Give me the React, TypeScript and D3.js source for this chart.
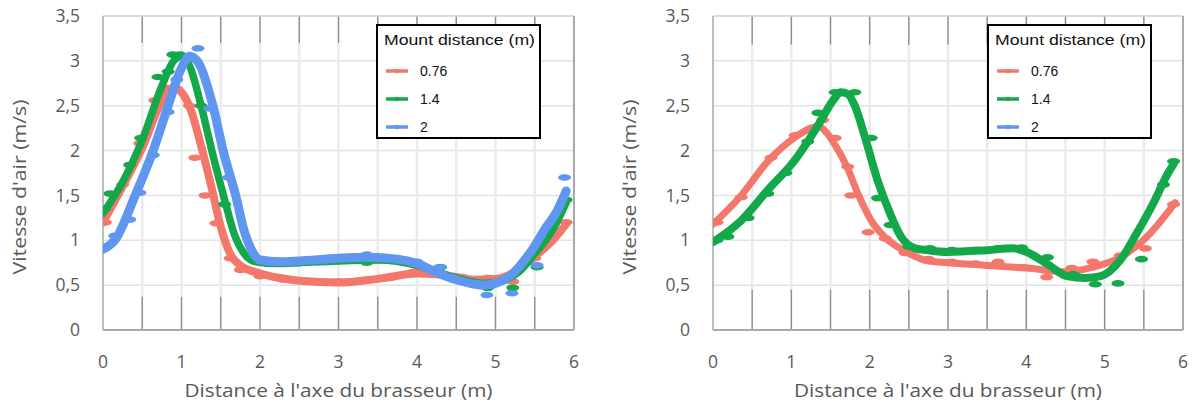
import React from "react";
import * as d3 from "d3";

// ---------- data ----------
const xTicks = [0, 1, 2, 3, 4, 5, 6];
const yTicks = [0, 0.5, 1, 1.5, 2, 2.5, 3, 3.5];
const yTickLabels = ["0", "0,5", "1", "1,5", "2", "2,5", "3", "3,5"];
const xGrid = [0.5, 1, 1.5, 2, 2.5, 3, 3.5, 4, 4.5, 5, 5.5];
const seriesNames = ["0.76", "1.4", "2"];
const seriesColors = ["#F4776C", "#13A84A", "#5F96F0"];
const xTitle = "Distance à l'axe du brasseur (m)";
const yTitle = "Vitesse d'air (m/s)";
const legendTitle = "Mount distance (m)";

// left panel: smoothed curves (x, v)
const leftRedTrend: [number, number][] = [[0,1.2],[0.25,1.6],[0.5,2.03],[0.75,2.55],[0.9,2.7],[1.0,2.65],[1.12,2.45],[1.25,2.05],[1.38,1.6],[1.5,1.15],[1.62,0.85],[1.75,0.72],[2.0,0.63],[2.25,0.58],[2.5,0.55],[3.0,0.53],[3.5,0.57],[4.0,0.63],[4.25,0.62],[4.5,0.59],[4.75,0.56],[5.0,0.57],[5.25,0.65],[5.5,0.82],[5.75,1.02],[5.9,1.18]];
const leftGreenTrend: [number, number][] = [[0,1.3],[0.25,1.65],[0.5,2.12],[0.75,2.72],[0.9,3.0],[1.0,3.05],[1.1,2.95],[1.25,2.5],[1.4,1.95],[1.55,1.45],[1.68,1.05],[1.8,0.85],[1.95,0.76],[2.25,0.74],[2.5,0.75],[3.0,0.77],[3.5,0.78],[4.0,0.72],[4.25,0.65],[4.5,0.58],[4.75,0.53],[4.9,0.52],[5.1,0.55],[5.3,0.65],[5.5,0.85],[5.75,1.15],[5.9,1.42]];
const leftBlueTrend: [number, number][] = [[0,0.9],[0.15,1.0],[0.41,1.5],[0.64,2.0],[0.83,2.5],[1.0,2.92],[1.1,3.05],[1.2,3.0],[1.4,2.5],[1.53,2.0],[1.69,1.5],[1.8,1.1],[1.9,0.88],[2.0,0.78],[2.25,0.76],[2.5,0.77],[3.0,0.8],[3.36,0.81],[3.75,0.79],[4.0,0.74],[4.25,0.64],[4.5,0.56],[4.85,0.5],[5.15,0.58],[5.44,0.86],[5.65,1.15],[5.78,1.32],[5.9,1.55]];

// left panel: measured points
const leftRedPts: [number, number][] = [[0.03,1.2],[0.25,1.62],[0.47,2.08],[0.66,2.56],[0.8,2.7],[1.1,2.5],[1.17,1.92],[1.3,1.5],[1.44,1.19],[1.62,0.8],[1.75,0.67],[2.0,0.6],[2.3,0.56],[2.68,0.54],[3.0,0.54],[3.36,0.56],[3.66,0.58],[3.96,0.65],[4.57,0.59],[4.9,0.58],[5.22,0.54],[5.5,0.8],[5.9,1.2]];
const leftGreenPts: [number, number][] = [[0.02,1.35],[0.09,1.52],[0.34,1.84],[0.48,2.14],[0.7,2.82],[0.83,2.88],[0.89,3.07],[0.98,3.07],[1.25,2.5],[1.55,1.4],[2.1,0.74],[2.5,0.75],[3.0,0.77],[3.36,0.75],[3.8,0.76],[4.3,0.7],[4.9,0.47],[5.22,0.47],[5.53,0.7],[5.9,1.45]];
const leftBluePts: [number, number][] = [[0.02,0.92],[0.15,1.05],[0.34,1.23],[0.47,1.53],[0.64,1.95],[0.83,2.43],[0.94,2.79],[1.21,3.14],[1.36,2.47],[1.6,1.7],[2.1,0.76],[2.42,0.76],[2.75,0.78],[3.06,0.8],[3.36,0.84],[3.7,0.8],[4.0,0.76],[4.29,0.7],[4.89,0.39],[5.21,0.41],[5.53,0.72],[5.88,1.7]];

// right panel
const rightRedTrend: [number, number][] = [[0,1.18],[0.36,1.5],[0.7,1.88],[1.05,2.15],[1.25,2.25],[1.34,2.27],[1.45,2.2],[1.56,2.06],[1.72,1.8],[1.85,1.52],[2.02,1.22],[2.2,1.03],[2.49,0.86],[2.74,0.77],[3.0,0.75],[3.5,0.72],[4.0,0.69],[4.52,0.65],[4.85,0.7],[5.2,0.81],[5.54,1.04],[5.83,1.34],[5.9,1.42]];
const rightGreenTrend: [number, number][] = [[0,0.98],[0.36,1.22],[0.7,1.56],[1.05,1.9],[1.34,2.28],[1.55,2.58],[1.63,2.65],[1.72,2.63],[1.81,2.5],[1.94,2.15],[2.1,1.67],[2.26,1.3],[2.4,1.04],[2.58,0.91],[2.74,0.89],[3.0,0.87],[3.5,0.89],[3.83,0.91],[4.05,0.85],[4.26,0.74],[4.52,0.6],[4.75,0.58],[4.95,0.6],[5.2,0.78],[5.41,1.08],[5.62,1.41],[5.81,1.75],[5.88,1.85]];
const rightRedPts: [number, number][] = [[0.05,1.2],[0.36,1.48],[0.74,1.92],[1.05,2.17],[1.4,2.34],[1.56,2.14],[1.72,1.82],[1.76,1.5],[1.98,1.09],[2.2,1.02],[2.45,0.86],[2.75,0.79],[3.05,0.76],[3.35,0.74],[3.64,0.76],[3.96,0.7],[4.26,0.59],[4.58,0.69],[4.85,0.76],[5.2,0.83],[5.52,0.91],[5.88,1.4]];
const rightGreenPts: [number, number][] = [[0.05,1.0],[0.19,1.04],[0.45,1.25],[0.7,1.52],[0.93,1.75],[1.21,2.1],[1.34,2.42],[1.56,2.65],[1.81,2.65],[2.02,2.14],[2.1,1.47],[2.26,1.17],[2.5,0.93],[2.77,0.91],[3.05,0.89],[3.35,0.89],[3.64,0.91],[3.94,0.92],[4.27,0.81],[4.6,0.62],[4.88,0.51],[5.17,0.52],[5.47,0.79],[5.75,1.62],[5.88,1.88]];

type Series = { trend: [number, number][]; pts: [number, number][]; color: string; lw: number };

const FONT_TICK = "'Open Sans', 'DejaVu Sans', sans-serif";
const FONT_LEG = "'Liberation Sans', Arial, sans-serif";
const GREY_TXT = "#595959";

function Panel({ x0, x1, series, bandTop, bandBottom, legendX, titleX }: {
  x0: number; x1: number; series: Series[]; bandTop: number; bandBottom: number; legendX: number; titleX: number;
}) {
  const top = 16, bottom = 330;
  const xs = d3.scaleLinear().domain([0, 6]).range([x0, x1]);
  const ys = d3.scaleLinear().domain([0, 3.5]).range([bottom, top]);
  const line = d3.line<[number, number]>().x(d => xs(d[0])).y(d => ys(d[1])).curve(d3.curveMonotoneX);
  const clipId = "clip" + x0;
  return (
    <g>
      <defs>
        <clipPath id={clipId}>
          <rect x={x0} y={top - 10} width={x1 - x0} height={bottom - top + 10} />
        </clipPath>
      </defs>
      {yTicks.slice(1, -1).map(t => (
        <line key={"h" + t} x1={x0} x2={x1} y1={ys(t)} y2={ys(t)} stroke="#e2e2e2" strokeWidth={1.5} />
      ))}
      {xGrid.map(t => (
        <g key={"v" + t}>
          <line x1={xs(t)} x2={xs(t)} y1={ys(bandTop)} y2={ys(bandBottom)} stroke="#ebebeb" strokeWidth={2.5} />
          <line x1={xs(t)} x2={xs(t)} y1={top} y2={ys(bandTop)} stroke="#8f8f8f" strokeWidth={1.5} />
          <line x1={xs(t)} x2={xs(t)} y1={ys(bandBottom)} y2={bottom} stroke="#8f8f8f" strokeWidth={1.5} />
        </g>
      ))}
      <line x1={x0} x2={x1} y1={top} y2={top} stroke="#d0d0d0" strokeWidth={1.5} />
      <line x1={x1} x2={x1} y1={top} y2={bottom} stroke="#a9a9a9" strokeWidth={2} />
      <line x1={x0} x2={x0} y1={top} y2={bottom} stroke="#bdbdbd" strokeWidth={2} />
      <line x1={x0} x2={x1} y1={bottom} y2={bottom} stroke="#a9a9a9" strokeWidth={2} />
      <g clipPath={`url(#${clipId})`}>
        {series.map((s, i) => (
          <g key={"s" + i}>
            <path d={line(s.trend) || ""} fill="none" stroke={s.color} strokeWidth={s.lw} strokeLinecap="round" strokeLinejoin="round" />
            {s.pts.map((p, j) => (
              <ellipse key={j} cx={xs(p[0])} cy={ys(p[1])} rx={6.5} ry={3.3} fill={s.color} />
            ))}
          </g>
        ))}
      </g>
      {yTicks.map((t, i) => (
        <text key={"yt" + t} x={x0 - 23} y={ys(t)} dy="0.35em" textAnchor="end" fontFamily={FONT_TICK} fontSize={17.5} fill={GREY_TXT}>{yTickLabels[i]}</text>
      ))}
      {xTicks.map(t => (
        <text key={"xt" + t} x={xs(t)} y={368} textAnchor="middle" fontFamily={FONT_TICK} fontSize={17.5} fill={GREY_TXT}>{t}</text>
      ))}
      <text x={(x0 + x1) / 2} y={397} textAnchor="middle" fontFamily={FONT_TICK} fontSize={18} fill={GREY_TXT} textLength={308} lengthAdjust="spacingAndGlyphs">{xTitle}</text>
      <text transform={`translate(${titleX},${187}) rotate(-90)`} textAnchor="middle" dy="0.35em" fontFamily={FONT_TICK} fontSize={18} fill={GREY_TXT} textLength={175} lengthAdjust="spacingAndGlyphs">{yTitle}</text>
      <g transform={`translate(${legendX},25)`}>
        <rect x={0} y={0} width={163} height={113} fill="#ffffff" stroke="#000" strokeWidth={2} />
        <text x={7} y={20} fontFamily={FONT_LEG} fontSize={14.5} fill="#111" textLength={151} lengthAdjust="spacingAndGlyphs">{legendTitle}</text>
        {seriesNames.map((n, i) => (
          <g key={"lg" + n} transform={`translate(0,${46 + i * 28})`}>
            <line x1={9} x2={31} y1={0} y2={0} stroke={seriesColors[i]} strokeWidth={3.5} />
            <circle cx={20} cy={0} r={2.3} fill={seriesColors[i]} />
            <text x={43} y={5} fontFamily={FONT_LEG} fontSize={14} fill="#111">{n}</text>
          </g>
        ))}
      </g>
    </g>
  );
}

export default function App() {
  const leftSeries: Series[] = [
    { trend: leftRedTrend, pts: leftRedPts, color: seriesColors[0], lw: 8 },
    { trend: leftGreenTrend, pts: leftGreenPts, color: seriesColors[1], lw: 7.5 },
    { trend: leftBlueTrend, pts: leftBluePts, color: seriesColors[2], lw: 9 },
  ];
  const rightSeries: Series[] = [
    { trend: rightRedTrend, pts: rightRedPts, color: seriesColors[0], lw: 7 },
    { trend: rightGreenTrend, pts: rightGreenPts, color: seriesColors[1], lw: 8 },
  ];
  return (
    <svg width={1195} height={409} style={{ position: "absolute", left: 0, top: 0, background: "#fff" }}>
      <rect x={0} y={0} width={1195} height={409} fill="#fff" />
      <Panel x0={103} x1={574} series={leftSeries} bandTop={3.2} bandBottom={0.37} legendX={377} titleX={20} />
      <Panel x0={713} x1={1183} series={rightSeries} bandTop={3.18} bandBottom={0.45} legendX={988} titleX={630} />
    </svg>
  );
}
